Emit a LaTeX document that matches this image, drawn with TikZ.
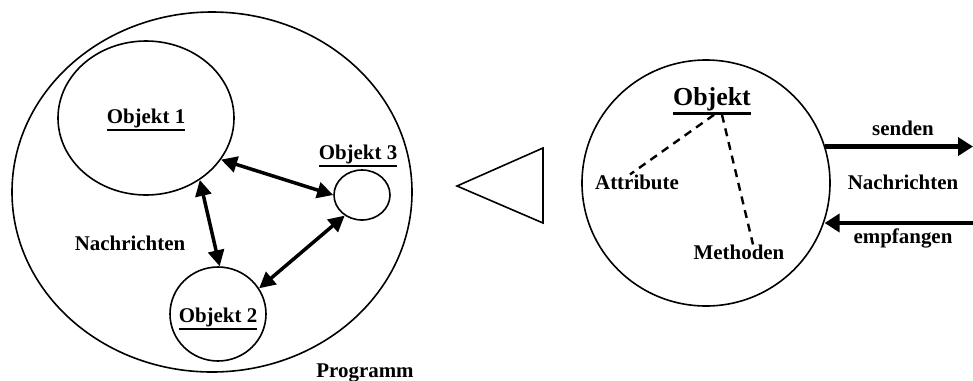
\documentclass[tikz,border=0pt]{standalone}
\usepackage{fontspec}
\setmainfont{Liberation Serif}
\usetikzlibrary{shapes.geometric, arrows, arrows.meta, positioning, calc}

\newcommand{\unterstr}[2][1.8bp]{\leavevmode\vtop{\hbox{#2}\kern1.5bp\hrule height #1}}

\begin{document}
\begin{tikzpicture}[x=1bp, y=-1bp]
        \tikzstyle{kreis} = [ellipse, draw=black, line width=1.6bp, inner sep=0pt]
        \tikzstyle{label} = [font=\fontsize{21}{25}\selectfont\bfseries, inner sep=0pt, align=center]
        \tikzstyle{biglabel} = [font=\fontsize{26}{30}\selectfont\bfseries, inner sep=0pt]
        \tikzstyle{arrow} = [line width=3.5bp, {Triangle[length=16bp, width=16bp]}-{Triangle[length=16bp, width=16bp]}]
        \tikzstyle{msg} = [line width=4.5bp, -{Triangle[length=15bp, width=18bp]}]
        \tikzstyle{link} = [line width=2.4bp, dash pattern=on 8bp off 6bp]

        \useasboundingbox (0,0) rectangle (973,380);

        % Programm mit drei Objekten
        \node (prog) [kreis, minimum width=400bp, minimum height=360bp] at (212,192) {};
        \node (obj1) [kreis, minimum width=176bp, minimum height=154bp] at (146,118) {};
        \node (obj2) [kreis, minimum width=96bp, minimum height=94bp] at (218,314) {};
        \node (obj3) [kreis, minimum width=56bp, minimum height=50bp] at (362,195) {};

        \node (lab1) [label] at (146,120) {\unterstr{Objekt 1}};
        \node (lab2) [label] at (218,319) {\unterstr{Objekt 2}};
        \node (lab3) [label] at (358,156) {\unterstr{Objekt 3}};
        \node (nachr1) [label] at (130,243) {Nachrichten};
        \node (proglab) [label, anchor=base] at (365,377) {Programm};

        \draw [arrow] (obj1.-29) -- (obj3.180);
        \draw [arrow] (obj1.-49) -- (obj2.88);
        \draw [arrow] (obj2.32) -- (obj3.230);

        % Dreieck
        \draw [line width=1.6bp] (543,148) -- (457,186) -- (543,223) -- cycle;

        % einzelnes Objekt
        \node (obj) [kreis, minimum width=248bp, minimum height=246bp] at (706,183) {};
        \node (objlab) [biglabel] at (712,101) {\unterstr[2.2bp]{Objekt}};
        \node (attr) [label] at (637,182) {Attribute};
        \node (meth) [label] at (739,252) {Methoden};

        \draw [link] ([xshift=2bp]objlab.south) -- ([xshift=-7bp]attr.north);
        \draw [link] ([xshift=10bp]objlab.south) -- ([xshift=14bp]meth.north);

        \coordinate (sendEnd) at (973,145);
        \coordinate (empfStart) at (973,223);
        \draw [msg] (obj.17) -- (obj.17 -| sendEnd);
        \draw [msg] (empfStart) -- (empfStart -| obj.-18);

        \node (send) [label] at (903,128) {senden};
        \node (nachr2) [label] at (903,182) {Nachrichten};
        \node (empf) [label] at (903,238) {empfangen};
    \end{tikzpicture}
\end{document}
